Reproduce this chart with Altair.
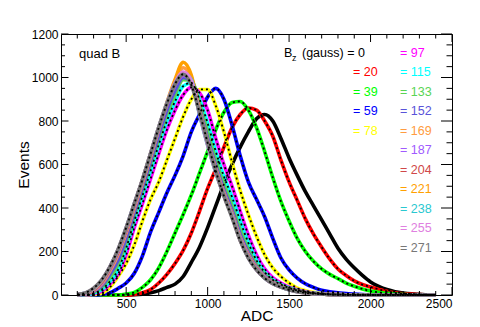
import altair as alt
import pandas as pd

ADC = [200, 250, 300, 350, 400, 450, 500, 550, 600, 650, 700, 750, 800, 850, 900,
       950, 1000, 1050, 1100, 1150, 1200, 1250, 1300, 1350, 1400, 1450, 1500, 1550,
       1600, 1650, 1700, 1750, 1800, 1850, 1900, 1950, 2000, 2050, 2100, 2150, 2200,
       2250, 2300, 2350, 2400]

LABELS = ["0", "20", "39", "59", "78", "97", "115", "133", "152", "169", "187",
          "204", "221", "238", "255", "271"]
COLORS = ["#000000", "#ff0000", "#00ff00", "#0000ff", "#ffff00", "#ff00ff", "#00ffff",
          "#59d454", "#5954d9", "#ff9c40", "#a05aff", "#d04848", "#ffa000", "#2ac8d0",
          "#e080e0", "#777777"]

Z11 = [0] * 11
C0 = [0, 0, 0, 0, 0, 0, 0, 1, 4, 10, 20, 35, 50, 85, 150, 220, 310, 410, 510, 600,
      680, 750, 810, 830, 800, 720, 630, 550, 475, 410, 345, 280, 215, 165, 125, 90,
      60, 40, 25, 15, 9, 5, 3, 1, 0]
C20 = [0, 0, 0, 0, 0, 0, 0, 3, 10, 25, 55, 95, 145, 205, 285, 385, 490, 580, 680, 770,
       830, 860, 850, 800, 730, 620, 520, 435, 350, 280, 220, 165, 120, 90, 65, 48,
       37, 26, 17, 10, 6, 4, 2, 1, 0]
C39 = [0, 0, 0, 0, 0, 0, 4, 12, 35, 70, 125, 200, 285, 370, 460, 560, 660, 760, 840,
       885, 890, 850, 770, 660, 540, 430, 340, 260, 200, 155, 120, 95, 75, 55, 40, 28,
       18, 12, 8, 5, 3, 1, 0, 0, 0]
C59 = [0, 0, 0, 3, 10, 30, 55, 100, 180, 290, 380, 470, 550, 640, 750, 830, 910, 950,
       900, 780, 640, 520, 440, 360, 260, 170, 115, 78, 52, 35, 22, 15, 10, 7, 4, 2, 1,
       0, 0, 0, 0, 0, 0, 0, 0]
C78 = [0, 0, 2, 8, 35, 85, 145, 230, 340, 440, 520, 620, 720, 820, 900, 945, 945, 870,
       750, 610, 480, 370, 270, 185, 125, 85, 55, 32, 20, 12, 7, 4, 2, 1] + Z11
C97 = [0, 1, 5, 18, 50, 95, 185, 310, 420, 535, 650, 760, 850, 920, 955, 930, 850, 720,
       600, 500, 385, 275, 185, 120, 80, 55, 36, 24, 15, 9, 6, 3, 2, 1] + Z11
C115 = [0, 2, 8, 25, 62, 115, 215, 340, 455, 570, 690, 800, 890, 960, 975, 900, 790,
        660, 545, 450, 340, 240, 160, 105, 70, 48, 32, 21, 13, 8, 5, 3, 2, 1] + Z11
C133 = [1, 3, 12, 35, 80, 140, 240, 365, 480, 600, 715, 830, 920, 990, 985, 880, 750,
        620, 510, 410, 300, 210, 140, 95, 63, 44, 30, 20, 13, 8, 5, 3, 2, 1] + Z11
C152 = [1, 4, 15, 42, 95, 160, 260, 380, 495, 615, 735, 850, 940, 1000, 980, 860, 720,
        595, 485, 390, 280, 195, 130, 88, 60, 42, 28, 19, 12, 7, 5, 3, 2, 1] + Z11
C169 = [2, 6, 20, 50, 110, 185, 285, 400, 515, 635, 760, 875, 970, 1045, 1000, 850, 705,
        580, 470, 375, 265, 185, 125, 84, 57, 40, 27, 18, 11, 7, 4, 3, 2, 1] + Z11
C187 = [2, 6, 22, 55, 118, 195, 295, 410, 525, 645, 765, 875, 965, 1010, 990, 840, 700,
        572, 465, 370, 260, 180, 122, 82, 56, 39, 26, 17, 11, 7, 4, 3, 2, 1] + Z11
C204 = [2, 7, 24, 60, 122, 200, 300, 415, 528, 648, 768, 878, 968, 1015, 985, 835, 695,
        568, 462, 368, 255, 176, 120, 80, 55, 38, 25, 17, 11, 6, 4, 2, 1, 1] + Z11
C221 = [2, 8, 26, 64, 126, 205, 305, 418, 530, 652, 772, 885, 990, 1070, 1010, 840, 692,
        565, 460, 366, 253, 174, 118, 79, 54, 38, 25, 16, 10, 6, 4, 2, 1, 1] + Z11
C238 = [3, 9, 28, 67, 128, 207, 308, 420, 530, 652, 772, 882, 972, 1020, 990, 830, 688,
        562, 458, 364, 252, 172, 117, 78, 53, 37, 24, 16, 10, 6, 4, 2, 1, 1] + Z11
C255 = [3, 9, 30, 68, 129, 208, 309, 420, 530, 651, 771, 881, 975, 1025, 985, 835, 692,
        566, 456, 360, 251, 171, 116, 78, 52, 36, 24, 15, 10, 6, 4, 2, 1, 1] + Z11
C271 = [3, 10, 32, 70, 130, 210, 310, 420, 530, 650, 770, 880, 970, 1015, 965, 840, 700,
        570, 455, 355, 250, 170, 115, 78, 52, 36, 24, 15, 10, 6, 4, 2, 1, 0] + Z11

COUNTS = [C0, C20, C39, C59, C78, C97, C115, C133, C152, C169, C187, C204, C221,
          C238, C255, C271]
FIT_SERIES = ["0", "20", "39", "59", "78", "97", "115", "271"]

X_MAJOR = [500, 1000, 1500, 2000, 2500]
X_MINOR = [200, 300, 400, 600, 700, 800, 900, 1100, 1200, 1300, 1400, 1600, 1700,
           1800, 1900, 2100, 2200, 2300, 2400]
Y_MAJOR = [0, 200, 400, 600, 800, 1000, 1200]
Y_MINOR = [50, 100, 150, 250, 300, 350, 450, 500, 550, 650, 700, 750, 850, 900, 950,
           1050, 1100, 1150]

W, H = 391, 261
FONT = "Liberation Sans"
xs = alt.Scale(domain=[100, 2500], nice=False, zero=False)
ys = alt.Scale(domain=[0, 1200], nice=False)

X_AXIS = alt.Axis(
    values=X_MAJOR, format="d", ticks=False, domain=False, grid=False, labelFont=FONT,
    labelFontSize=12, labelPadding=3, labelColor="black", title="ADC",
    titleFont=FONT, titleFontSize=15.5, titleFontWeight="normal",
    titleColor="black", titleBaseline="alphabetic", titleY=25)
Y_AXIS = alt.Axis(
    values=Y_MAJOR, format="d", ticks=False, domain=False, grid=False, labelFont=FONT,
    labelFontSize=12, labelPadding=3, labelColor="black", title="Events",
    titleFont=FONT, titleFontSize=15.5, titleFontWeight="normal",
    titleColor="black", titleX=-38, titleY=H / 2, titleAlign="center",
    titleBaseline="middle", titleAngle=270)


def xq(field):
    return alt.X(field, scale=xs, axis=X_AXIS)


def yq(field):
    return alt.Y(field, scale=ys, axis=Y_AXIS)


layers = []
for lab, col, cnt in zip(LABELS, COLORS, COUNTS):
    df = pd.DataFrame({"ADC": ADC, "Events": cnt})
    layers.append(alt.Chart(df).mark_line(color=col, strokeWidth=3.6,
                                          interpolate="monotone").encode(
        x=xq("ADC:Q"), y=yq("Events:Q")))

for lab, cnt in zip(LABELS, COUNTS):
    if lab in FIT_SERIES:
        df = pd.DataFrame({"ADC": ADC, "Events": cnt})
        layers.append(alt.Chart(df).mark_line(color="black", strokeWidth=1.8,
                                              strokeDash=[2, 3],
                                              interpolate="monotone").encode(
            x=xq("ADC:Q"), y=yq("Events:Q")))


def xticks(vals, y0, y1):
    return alt.Chart(pd.DataFrame({"ADC": vals})).mark_rule(color="black", strokeWidth=1).encode(
        x=xq("ADC:Q"), y=alt.value(y0), y2=alt.value(y1))


def yticks(vals, x0, x1):
    return alt.Chart(pd.DataFrame({"Events": vals})).mark_rule(color="black", strokeWidth=1).encode(
        y=yq("Events:Q"), x=alt.value(x0), x2=alt.value(x1))


layers += [
    xticks(X_MAJOR, H, H - 8), xticks(X_MINOR, H, H - 4),
    xticks(X_MAJOR, 0, 8), xticks(X_MINOR, 0, 4.5),
    yticks(Y_MAJOR, 0, 7.5), yticks(Y_MINOR, 0, 4),
    yticks(Y_MAJOR, W, W - 11), yticks(Y_MINOR, W, W - 5.5),
]


def label(txt, x, y, color="black", size=12.5):
    return alt.Chart(pd.DataFrame({"t": [txt]})).mark_text(
        align="left", baseline="middle", font=FONT, fontSize=size, color=color).encode(
        x=alt.value(x), y=alt.value(y), text="t:N")


layers.append(label("quad B", 18, 20, size=13))
layers.append(label("B", 223, 19))
layers.append(label("z", 231, 23.5, size=9))
layers.append(label("(gauss) = 0", 241, 19))
ROW = 19.47
for k in range(1, 5):
    layers.append(label("= " + LABELS[k], 292, 19 + ROW * k, COLORS[k]))
for k in range(5, 16):
    layers.append(label("= " + LABELS[k], 339, 19 + ROW * (k - 5), COLORS[k]))

chart = alt.layer(*layers).properties(
    width=W, height=H,
    autosize=alt.AutoSizeParams(type="none"),
    padding={"left": 53, "top": 26, "right": 20, "bottom": 30},
).configure_view(stroke="black", strokeWidth=1)

chart.save("out.html", embed_options={"renderer": "svg", "actions": False})
